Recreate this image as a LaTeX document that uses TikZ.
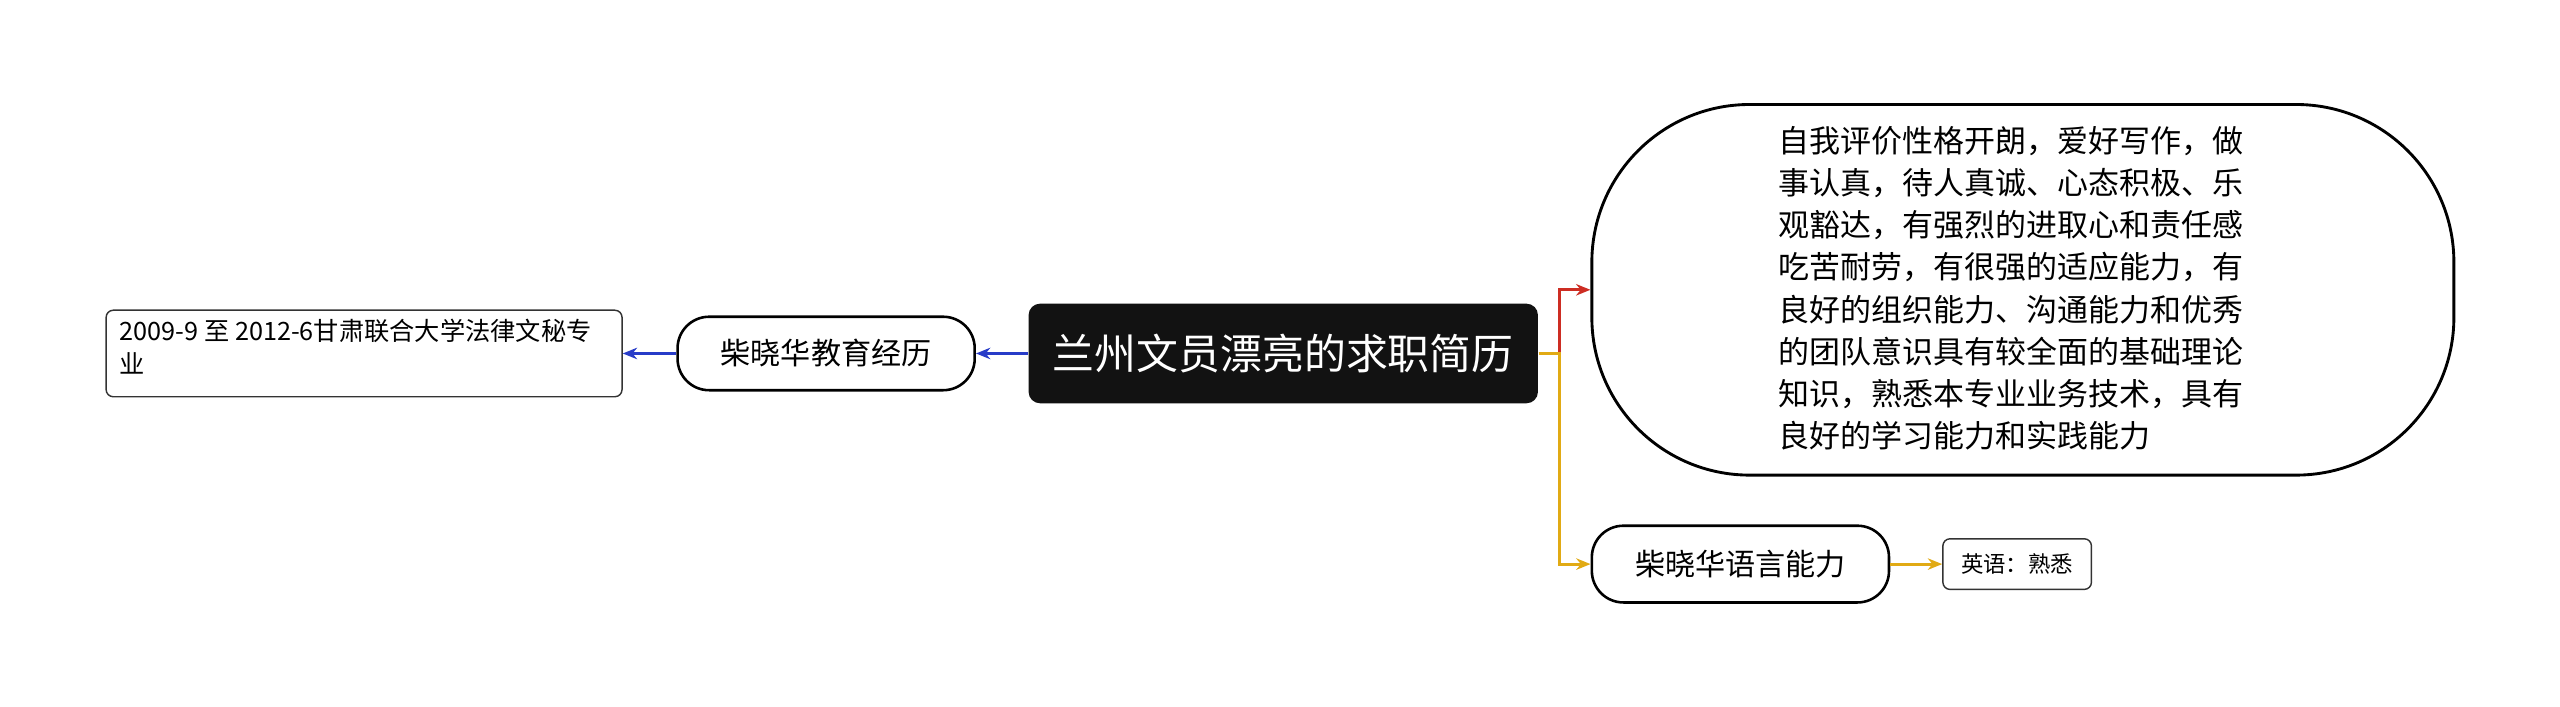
\documentclass[tikz,border=0pt]{standalone}
\usepackage{fontspec}
\setmainfont{Liberation Sans}
\newfontfamily\cjk{Noto Sans CJK SC}
\usetikzlibrary{arrows.meta}
\begin{document}
\begin{tikzpicture}[x=0.02cm,y=-0.02cm,
  pill/.style={draw=black,line width=0.9pt,rounded corners=11pt,fill=white,inner sep=0pt,font=\cjk\fontsize{10.5}{12}\selectfont},
  leafbox/.style={draw=black!80,line width=0.5pt,rounded corners=2.5pt,fill=white,inner sep=0pt,font=\cjk\fontsize{7.8}{10}\selectfont},
  conn/.style={line width=1pt,-{Stealth[length=5pt,width=4pt]}}]
\useasboundingbox (0,0) rectangle (1568,433);
\node[fill=black!93,rounded corners=4pt,minimum width=312*0.02cm,minimum height=61*0.02cm,text=white,font=\cjk\fontsize{14.6}{16}\selectfont] (c) at (786,216.5) {兰州文员漂亮的求职简历};
\node[pill,minimum width=182*0.02cm,minimum height=45*0.02cm] (edu) at (506,216.5) {柴晓华教育经历};
\node[leafbox,minimum width=316*0.02cm,minimum height=53*0.02cm] (eduleaf) at (223,216.5) {};
\node[anchor=north west,align=left,inner sep=0pt,font=\cjk\fontsize{8.8}{11.5}\selectfont] at (73,195) {2009-9 至 2012-6甘肃联合大学法律文秘专\\业};
\node[draw=black,line width=1pt,rounded corners=55pt,minimum width=528*0.02cm,minimum height=227*0.02cm,fill=white] (self) at (1239,177.5) {};
\node[anchor=north west,align=left,inner sep=0pt,font=\cjk\fontsize{10.8}{14.7}\selectfont] at (1089,77) {自我评价性格开朗，爱好写作，做\\事认真，待人真诚、心态积极、乐\\观豁达，有强烈的进取心和责任感\\吃苦耐劳，有很强的适应能力，有\\良好的组织能力、沟通能力和优秀\\的团队意识具有较全面的基础理论\\知识，熟悉本专业业务技术，具有\\良好的学习能力和实践能力};
\node[pill,minimum width=182*0.02cm,minimum height=47*0.02cm] (lang) at (1066,345.5) {柴晓华语言能力};
\node[leafbox,minimum width=91*0.02cm,minimum height=31*0.02cm] (en) at (1235.5,345.5) {英语：熟悉};
\draw[conn,draw={rgb,255:red,40;green,60;blue,200}] (c.west) -- (edu.east);
\draw[conn,draw={rgb,255:red,40;green,60;blue,200}] (edu.west) -- (eduleaf.east);
\draw[conn,draw={rgb,255:red,205;green,45;blue,35}] (c.east) -- (955,216.5) -- (955,177.5) -- (self.west);
\draw[conn,draw={rgb,255:red,225;green,170;blue,20}] (c.east) -- (955,216.5) -- (955,345.5) -- (lang.west);
\draw[conn,draw={rgb,255:red,225;green,170;blue,20}] (lang.east) -- (en.west);
\end{tikzpicture}
\end{document}
